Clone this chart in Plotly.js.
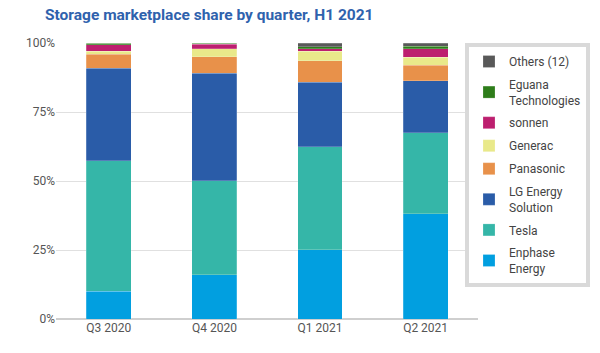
<!DOCTYPE html>
<html><head><meta charset="utf-8">
<script src="https://cdn.plot.ly/plotly-3.0.1.min.js"></script>
<style>html,body{margin:0;padding:0;background:#fff}#chart{width:600px;height:353px}</style>
</head><body><div id="chart"></div>
<script>
const quarters = ["Q3 2020", "Q4 2020", "Q1 2021", "Q2 2021"];
const enphase = [10.0, 16.0, 25.1, 38.2];
const tesla = [47.4, 34.1, 37.3, 29.2];
const lg = [33.5, 39.0, 23.4, 19.0];
const panasonic = [5.1, 6.0, 7.8, 5.5];
const generac = [1.0, 2.9, 3.4, 3.0];
const sonnen = [2.3, 1.5, 0.9, 3.1];
const eguana = [0.7, 0.5, 0.8, 0.8];
const others = [0.0, 0.0, 1.3, 1.2];
const seriesNames = ["Enphase<br>Energy", "Tesla", "LG Energy<br>Solution", "Panasonic", "Generac", "sonnen", "Eguana<br>Technologies", "Others (12)"];
const seriesValues = [enphase, tesla, lg, panasonic, generac, sonnen, eguana, others];
const colors = ["#019fe0", "#35b6a8", "#2a5ca8", "#e8914a", "#e9e98a", "#bd1f6f", "#2e7d1a", "#595959"];
const traces = seriesNames.map((n, i) => ({
  type: "bar", name: n, x: quarters, y: seriesValues[i].map(v => v / 100),
  marker: {color: colors[i], line: {color: "rgba(255,255,255,0.35)", width: 0.6}},
  legendgroup: "g" + i, legendrank: seriesNames.length - i, hoverinfo: "skip"
}));
const L = 55.5, R = 10;
const W = 600 - L - R;
const layout = {
  width: 600, height: 353,
  barmode: "stack", bargap: 0.575,
  margin: {l: L, r: R, t: 42.5, b: 33.7},
  paper_bgcolor: "#fff", plot_bgcolor: "#fff",
  font: {family: "Roboto, sans-serif", size: 12, color: "#555"},
  title: {text: "<b>Storage marketplace share by quarter, H1 2021</b>", x: 0.075, xanchor: "left", y: 0.96, yanchor: "middle",
    font: {family: "Roboto, sans-serif", size: 15.5, color: "#2f62ad"}},
  xaxis: {type: "category", domain: [0, (478.3 - L) / W], tickfont: {size: 12, color: "#555"}, showgrid: false, zeroline: false, showline: false, ticks: ""},
  yaxis: {range: [0, 1], tickvals: [0, 0.25, 0.5, 0.75, 1], ticktext: ["0%", "25%", "50%", "75%", "100%"],
    gridcolor: "#e0e0e0", gridwidth: 1, zeroline: true, zerolinecolor: "#cfcfcf", zerolinewidth: 1.5, showline: false,
    tickfont: {size: 12, color: "#555"}, ticks: "", ticklen: 0},
  legend: {x: 1.0, xanchor: "right", y: 1.0, yanchor: "top", traceorder: "grouped", tracegroupgap: 4,
    maxheight: 330, itemwidth: 30, bordercolor: "#d9d9d9", borderwidth: 4, bgcolor: "#fff",
    font: {size: 12, color: "#444"}}
};
Plotly.newPlot("chart", traces, layout, {displayModeBar: false, staticPlot: true});
</script></body></html>
